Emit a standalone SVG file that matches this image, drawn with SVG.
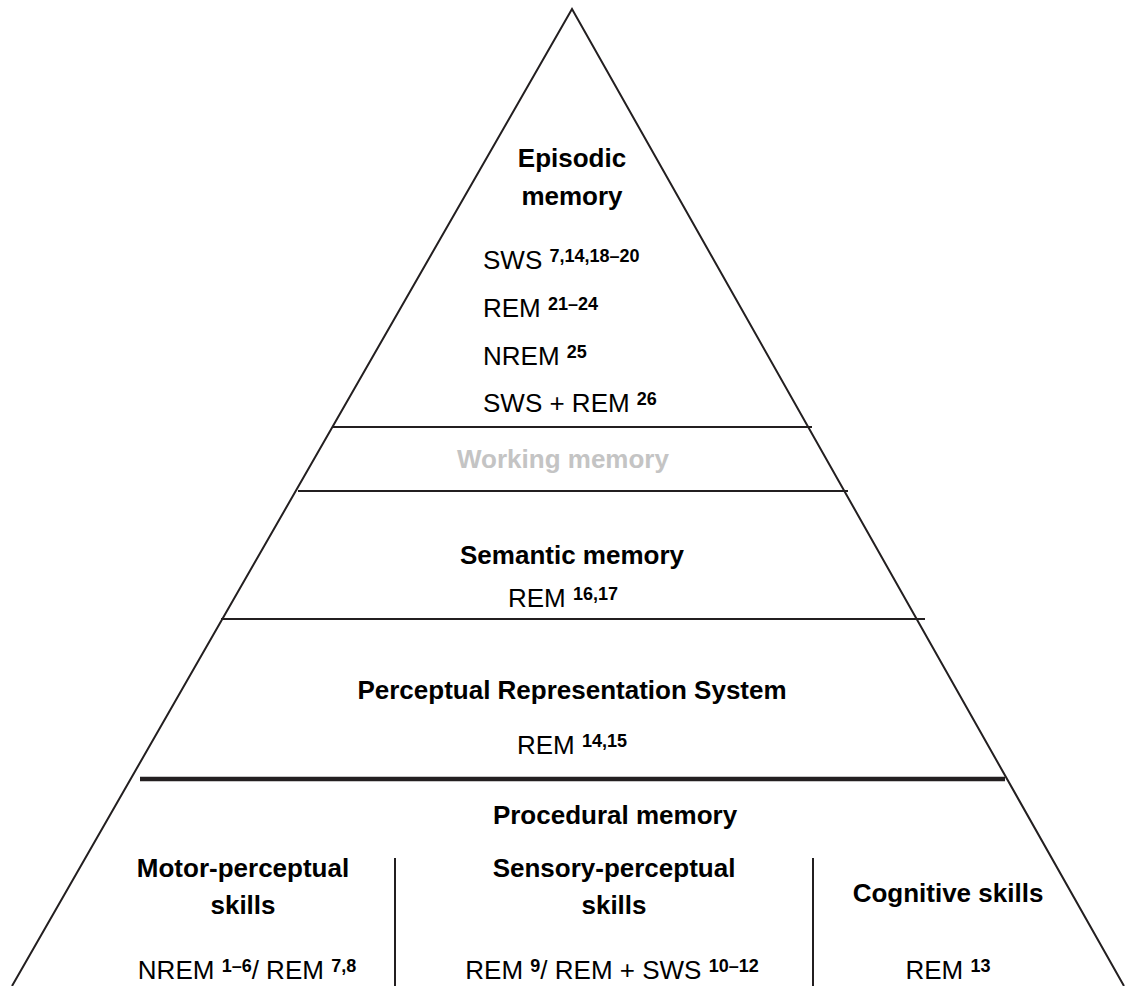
<svg xmlns="http://www.w3.org/2000/svg" width="1125" height="986" viewBox="0 0 1125 986">
<style>
.edge{fill:none;stroke:#231f20;stroke-width:2}
.thin{stroke:#231f20;stroke-width:2}
.thick{stroke:#231f20;stroke-width:4.5}
.b{font-family:"Liberation Sans",Arial,sans-serif;font-weight:bold;font-size:26px;fill:#000;text-anchor:middle}
.r{font-family:"Liberation Sans",Arial,sans-serif;font-size:26px;fill:#000}
.m{text-anchor:middle}
.sup{font-weight:bold;font-size:18px}
.gray{fill:#c4c4c4}
</style>
<rect width="1125" height="986" fill="#fff"/>
<g id="connectors">
<path class="edge" d="M12,986 L572,9 L1124,986"/>
<line class="thin" x1="333" y1="427" x2="812" y2="427"/>
<line class="thin" x1="298" y1="491" x2="848" y2="491"/>
<line class="thin" x1="221" y1="619" x2="925" y2="619"/>
<line class="thick" x1="140" y1="779" x2="1005" y2="779"/>
<line class="thin" x1="395" y1="858" x2="395" y2="986"/>
<line class="thin" x1="813" y1="858" x2="813" y2="986"/>
</g>
<g id="episodic">
<text class="b" x="572" y="167">Episodic</text>
<text class="b" x="572" y="205">memory</text>
<text class="r" x="483" y="269">SWS <tspan class="sup" dy="-7">7,14,18–20</tspan></text>
<text class="r" x="483" y="317">REM <tspan class="sup" dy="-7">21–24</tspan></text>
<text class="r" x="483" y="365">NREM <tspan class="sup" dy="-7">25</tspan></text>
<text class="r" x="483" y="412">SWS + REM <tspan class="sup" dy="-7">26</tspan></text>
</g>
<g id="working">
<text class="b gray" x="563" y="468">Working memory</text>
</g>
<g id="semantic">
<text class="b" x="572" y="564">Semantic memory</text>
<text class="r m" x="563" y="607">REM <tspan class="sup" dy="-7">16,17</tspan></text>
</g>
<g id="prs">
<text class="b" x="572" y="699">Perceptual Representation System</text>
<text class="r m" x="572" y="754">REM <tspan class="sup" dy="-7">14,15</tspan></text>
</g>
<g id="procedural">
<text class="b" x="615" y="824">Procedural memory</text>
</g>
<g id="motor">
<text class="b" x="243" y="877">Motor-perceptual</text>
<text class="b" x="243" y="914">skills</text>
<text class="r m" x="247" y="979">NREM <tspan class="sup" dy="-7">1–6</tspan><tspan dy="7">/ REM </tspan><tspan class="sup" dy="-7">7,8</tspan></text>
</g>
<g id="sensory">
<text class="b" x="614" y="877">Sensory-perceptual</text>
<text class="b" x="614" y="914">skills</text>
<text class="r m" x="612" y="979">REM <tspan class="sup" dy="-7">9</tspan><tspan dy="7">/ REM + SWS </tspan><tspan class="sup" dy="-7">10–12</tspan></text>
</g>
<g id="cognitive">
<text class="b" x="948" y="902">Cognitive skills</text>
<text class="r m" x="948" y="979">REM <tspan class="sup" dy="-7">13</tspan></text>
</g>
</svg>
